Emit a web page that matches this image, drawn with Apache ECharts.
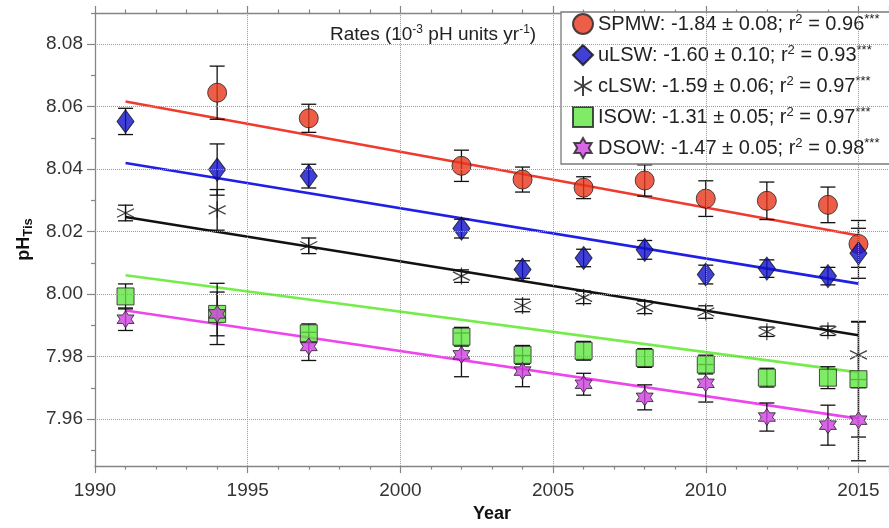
<!DOCTYPE html>
<html>
<head>
<meta charset="utf-8">
<script src="https://cdn.jsdelivr.net/npm/echarts@6/dist/echarts.min.js"></script>
<style>
html,body{margin:0;padding:0;background:#fff;}
#c{width:889px;height:528px;}
</style>
</head>
<body>
<div id="c"></div>
<script>
// ---- data ----
const years = [1991, 1994, 1997, 2002, 2004, 2006, 2008, 2010, 2012, 2014, 2015];
const spmw    = [null, 8.0645, 8.0563, 8.0411, 8.0367, 8.0341, 8.0364, 8.0306, 8.0299, 8.0286, 8.0161];
const spmwErr = [null, 0.0085, 0.0045, 0.0050, 0.0040, 0.0035, 0.0050, 0.0057, 0.0060, 0.0057, 0.0075];
const ulsw    = [8.0553, 8.0399, 8.0378, 8.0210, 8.0079, 8.0116, 8.0142, 8.0063, 8.0082, 8.0058, 8.0131];
const ulswErr = [0.0042, 0.0082, 0.0038, 0.0030, 0.0028, 0.0028, 0.0030, 0.0030, 0.0028, 0.0028, 0.0080];
const clsw    = [8.0260, 8.0270, 8.0155, 8.0058, 7.9964, 7.9990, 7.9958, 7.9943, 7.9880, 7.9883, 7.9806];
const clswErr = [0.0025, 0.0065, 0.0025, 0.0020, 0.0020, 0.0020, 0.0020, 0.0020, 0.0015, 0.0015, 0.0105];
const isow    = [7.9993, 7.9937, 7.9875, 7.9864, 7.9806, 7.9819, 7.9796, 7.9775, 7.9733, 7.9733, 7.9728];
const isowErr = [0.0040, 0.0098, 0.0030, 0.0030, 0.0030, 0.0030, 0.0030, 0.0030, 0.0030, 0.0035, 0.0185];
const dsow    = [7.9920, 7.9937, 7.9833, 7.9806, 7.9754, 7.9712, 7.9670, 7.9715, 7.9607, 7.9581, 7.9597];
const dsowErr = [0.0036, 0.0070, 0.0045, 0.0070, 0.0050, 0.0035, 0.0040, 0.0060, 0.0045, 0.0064, 0.0130];

// fitted trend lines (start/end)
const spmwFit = [[1991, 8.0617], [2015, 8.0188]];
const ulswFit = [[1991, 8.0420], [2015, 8.0034]];
const clswFit = [[1991, 8.0247], [2015, 7.9869]];
const isowFit = [[1991, 8.0061], [2015, 7.9750]];
const dsowFit = [[1991, 7.9948], [2015, 7.9602]];

// legend texts
const seriesNames = ['SPMW', 'uLSW', 'cLSW', 'ISOW', 'DSOW'];
const rates = ['-1.84 ± 0.08', '-1.60 ± 0.10', '-1.59 ± 0.06', '-1.31 ± 0.05', '-1.47 ± 0.05'];
const r2s   = ['0.96', '0.93', '0.97', '0.97', '0.98'];

// ticks
const yMajorTicks = [7.96, 7.98, 8.00, 8.02, 8.04, 8.06, 8.08];
const yMinorTicks = [7.95, 7.97, 7.99, 8.01, 8.03, 8.05, 8.07, 8.09];
const xGridYears = [1995, 2000, 2005, 2010, 2015];

const FONT = "'Liberation Sans', Arial, sans-serif";
const asteriskPath = 'path://M0,-1L0,1M-0.866,-0.5L0.866,0.5M-0.866,0.5L0.866,-0.5';
const starPath = 'path://M0,-1L0.2887,-0.5L0.866,-0.5L0.5774,0L0.866,0.5L0.2887,0.5L0,1L-0.2887,0.5L-0.866,0.5L-0.5774,0L-0.866,-0.5L-0.2887,-0.5Z';

const groups = [
  {name: 'SPMW', vals: spmw, err: spmwErr, fit: spmwFit, line: '#ee3b2e', symbol: 'circle', size: 19,
   style: {color: '#e8361c', borderColor: '#222', borderWidth: 1}},
  {name: 'uLSW', vals: ulsw, err: ulswErr, fit: ulswFit, line: '#1f1fe6', symbol: 'diamond', size: [17, 23],
   style: {color: '#1010cc', borderColor: '#111', borderWidth: 1}},
  {name: 'cLSW', vals: clsw, err: clswErr, fit: clswFit, line: '#111111', symbol: asteriskPath, size: 17,
   style: {color: 'rgba(0,0,0,0)', borderColor: '#111', borderWidth: 1.2}},
  {name: 'ISOW', vals: isow, err: isowErr, fit: isowFit, line: '#74ec4a', symbol: 'rect', size: 17,
   style: {color: '#5fe640', borderColor: '#222', borderWidth: 1}},
  {name: 'DSOW', vals: dsow, err: dsowErr, fit: dsowFit, line: '#ec46ec', symbol: starPath, size: 17,
   style: {color: '#d040e0', borderColor: '#222', borderWidth: 1}}
];

function errRender(params, api) {
  const x = api.value(0), y = api.value(1), e = api.value(2);
  const t = api.coord([x, y + e]);
  const b = api.coord([x, y - e]);
  const w = 7.5;
  const st = {stroke: '#111', lineWidth: 1.3};
  return {type: 'group', children: [
    {type: 'line', shape: {x1: t[0], y1: t[1], x2: b[0], y2: b[1]}, style: st},
    {type: 'line', shape: {x1: t[0] - w, y1: t[1], x2: t[0] + w, y2: t[1]}, style: st},
    {type: 'line', shape: {x1: b[0] - w, y1: b[1], x2: b[0] + w, y2: b[1]}, style: st}
  ]};
}

const series = [];
// dotted grid
series.push({
  type: 'line', data: [], silent: true, z: 0,
  markLine: {
    silent: true, symbol: ['none', 'none'], animation: false,
    label: {show: false},
    lineStyle: {type: 'dotted', color: '#9a9a9a', width: 1},
    emphasis: {disabled: true},
    data: yMajorTicks.map(v => ({yAxis: v})).concat(xGridYears.map(v => ({xAxis: v})))
  }
});
groups.forEach(g => {
  series.push({type: 'line', data: g.fit, showSymbol: false, symbol: 'none', z: 1, silent: true,
    lineStyle: {color: g.line, width: 2.6}});
});
groups.forEach(g => {
  const pts = years.map((yr, i) => [yr, g.vals[i]]).filter(d => d[1] != null);
  const errs = years.map((yr, i) => [yr, g.vals[i], g.err[i]]).filter(d => d[1] != null);
  series.push({name: g.name, type: 'scatter', data: pts, symbol: g.symbol, symbolSize: g.size, z: 2,
    itemStyle: g.style});
  series.push({type: 'custom', data: errs, renderItem: errRender, z: 2, silent: true,
    encode: {x: 0, y: 1}});
});

const axisColor = '#858585';
const xCommon = {
  type: 'value', min: 1990, max: 2016, interval: 5,
  axisLine: {show: true, onZero: false, lineStyle: {color: axisColor, width: 1.3}},
  axisTick: {show: true, inside: false, length: 7, lineStyle: {color: axisColor, width: 1.2}},
  minorTick: {show: true, splitNumber: 5, length: 3.5, lineStyle: {color: axisColor, width: 1.2}},
  splitLine: {show: false}
};

const option = {
  animation: false,
  backgroundColor: '#fff',
  grid: {left: 95, top: 13, width: 795.6, height: 462, containLabel: false},
  title: {
    text: '{a|Rates (10}{s|-3}{a| pH units yr}{s|-1}{a|)}',
    left: 330, top: 24, padding: 0,
    textStyle: {fontWeight: 'normal', rich: {
      a: {fontFamily: FONT, fontWeight: 'normal', fontSize: 19, color: '#222', lineHeight: 22},
      s: {fontFamily: FONT, fontWeight: 'normal', fontSize: 12, color: '#222', lineHeight: 11, verticalAlign: 'top'}
    }}
  },
  legend: {
    orient: 'vertical', left: 561, top: 12,
    padding: [1, 30, 5, 11], itemGap: 9, itemWidth: 20, itemHeight: 20,
    backgroundColor: '#fff', borderColor: '#7a7a7a', borderWidth: 1.3,
    data: seriesNames,
    formatter: function (name) {
      const i = seriesNames.indexOf(name);
      return '{a|' + name + ': ' + rates[i] + '; r}{s|2}{a| = ' + r2s[i] + '}{s|***}';
    },
    textStyle: {rich: {
      a: {fontFamily: FONT, fontSize: 20, color: '#222', lineHeight: 22},
      s: {fontFamily: FONT, fontSize: 13, color: '#222', lineHeight: 12, verticalAlign: 'top'}
    }}
  },
  xAxis: [
    Object.assign({}, xCommon, {
      position: 'bottom',
      name: 'Year', nameLocation: 'middle', nameGap: 36,
      nameTextStyle: {fontFamily: "'Liberation Sans Narrow', 'Liberation Sans', Arial", fontWeight: 'bold', fontSize: 18, color: '#111'},
      axisLabel: {show: true, margin: 15, fontFamily: FONT, fontSize: 19, color: '#333', showMaxLabel: false,
        formatter: v => String(v)}
    }),
    Object.assign({}, xCommon, {position: 'top', axisLabel: {show: false}})
  ],
  yAxis: [
    {
      type: 'value', min: 7.945, max: 8.09, position: 'left',
      name: '{a|pH}{b|Tis}', nameLocation: 'middle', nameGap: 60, nameRotate: 90,
      nameTextStyle: {rich: {
        a: {fontFamily: FONT, fontWeight: 'bold', fontSize: 18, color: '#111', lineHeight: 22},
        b: {fontFamily: FONT, fontWeight: 'bold', fontSize: 13, color: '#111', lineHeight: 12, verticalAlign: 'bottom'}
      }},
      axisLine: {show: true, onZero: false, lineStyle: {color: axisColor, width: 1.3}},
      axisTick: {show: true, length: 8, customValues: yMajorTicks, lineStyle: {color: axisColor, width: 1.2}},
      axisLabel: {show: true, margin: 12, customValues: yMajorTicks, fontFamily: FONT, fontSize: 19, color: '#333',
        formatter: v => v.toFixed(2)},
      splitLine: {show: false}
    },
    {
      type: 'value', min: 7.945, max: 8.09, position: 'left',
      axisLine: {show: false},
      axisTick: {show: true, length: 4, customValues: yMinorTicks, lineStyle: {color: axisColor, width: 1.2}},
      axisLabel: {show: false},
      splitLine: {show: false}
    }
  ],
  series: series
};

const chart = echarts.init(document.getElementById('c'), null, {renderer: 'canvas'});
chart.setOption(option);
</script>
</body>
</html>
